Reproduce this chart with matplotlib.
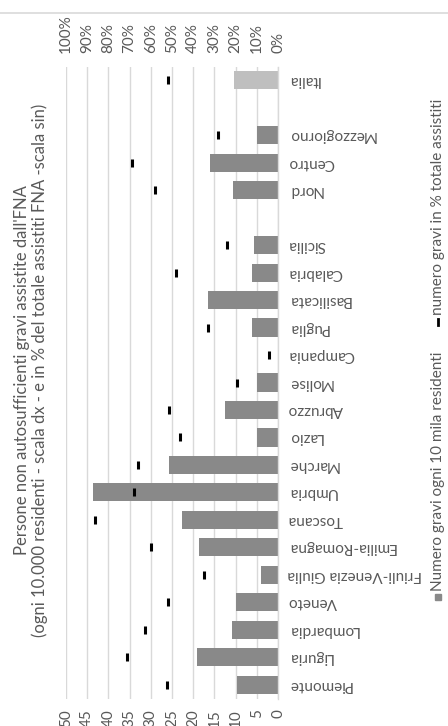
import numpy as np
import matplotlib
matplotlib.use("Agg")
import matplotlib.pyplot as plt
from matplotlib.patches import Rectangle
from matplotlib.lines import Line2D

plt.rcParams['font.family'] = ['Lato', 'DejaVu Sans']

categories = ['Piemonte', 'Liguria', 'Lombardia', 'Veneto', 'Friuli-Venezia Giulia',
              'Emilia-Romagna', 'Toscana', 'Umbria', 'Marche', 'Lazio', 'Abruzzo',
              'Molise', 'Campania', 'Puglia', 'Basilicata', 'Calabria', 'Sicilia',
              '', 'Nord', 'Centro', 'Mezzogiorno', '', 'Italia']
gravi_10mila = [9.6, 19.2, 10.8, 9.8, 3.9, 18.6, 22.7, 43.6, 25.7, 5.0, 12.6,
                5.0, 0.1, 6.1, 16.6, 6.2, 5.7, np.nan, 10.6, 16.0, 5.0, np.nan, 10.4]
gravi_pct = [52.5, 71.1, 62.6, 52.0, 34.9, 60.0, 86.3, 68.1, 66.2, 46.1, 51.3,
             19.3, 4.1, 33.0, np.nan, 48.1, 23.9, np.nan, 58.0, 68.7, 28.2, np.nan, 51.7]
left_ticks = [0, 5, 10, 15, 20, 25, 30, 35, 40, 45, 50]
right_ticks = [0, 10, 20, 30, 40, 50, 60, 70, 80, 90, 100]

title = ("Persone non autosufficienti gravi assistite dall'FNA\n"
         "(ogni 10.000 residenti - scala dx - e in % del totale assistiti FNA -scala sin)")
legend1 = "Numero gravi ogni 10 mila residenti"
legend2 = "numero gravi in % totale assistiti"

W, H = 448, 726
fig = plt.figure(figsize=(W / 100, H / 100), dpi=100)
TXT = '#595959'
GRID = '#d9d9d9'
FS = 11

x0, x1 = 66, 278
ytop, ybot = 66.5, 698.5
ax = fig.add_axes([x0 / W, 1 - ybot / H, (x1 - x0) / W, (ybot - ytop) / H])
idx = np.arange(len(categories))
colors = ['#bfbfbf' if c == 'Italia' else '#898989' for c in categories]
ax.barh(idx, gravi_10mila, height=0.66, color=colors, zorder=2)
ax.set_xlim(50, 0)
ax.set_ylim(-0.5, len(categories) - 0.5)
ax.set_xticks(left_ticks)
ax.set_xticklabels([str(t) for t in left_ticks], rotation=90, color=TXT, fontsize=FS)
ax.tick_params(axis='x', length=0, pad=7.5)
ax.grid(axis='x', color=GRID, linewidth=1.0, zorder=0)
ax.yaxis.tick_right()
ax.set_yticks(idx)
ax.set_yticklabels(categories, rotation=180, color=TXT, fontsize=FS, va='center')
ax.tick_params(axis='y', length=0, pad=7)
for s in ['top', 'bottom', 'left']:
    ax.spines[s].set_visible(False)
ax.spines['right'].set_color(GRID)
ax.spines['right'].set_linewidth(1.0)
ax.set_axisbelow(True)

ax2 = ax.twiny()
ax2.set_xlim(100, 0)
ax2.plot(gravi_pct, idx, linestyle='none', marker='|', markersize=6,
         markeredgewidth=2.2, color='black', zorder=3)
ax2.set_xticks(right_ticks)
ax2.set_xticklabels([f"{t}%" for t in right_ticks], rotation=90, color=TXT, fontsize=FS)
ax2.tick_params(axis='x', length=0, pad=9.5)
for s in ax2.spines.values():
    s.set_visible(False)

fig.text(31 / W, 1 - 370 / H, title, rotation=90, ha='center', va='center',
         color=TXT, fontsize=12, linespacing=1.15, multialignment='center')

# legend
lx = 438
fig.patches.append(Rectangle(((lx - 3) / W, 1 - 600 / H), 6 / W, 6 / H,
                             transform=fig.transFigure, color='#898989'))
fig.text(lx / W, 1 - 591 / H, legend1, rotation=90, ha='center', va='bottom',
         color=TXT, fontsize=FS)
fig.lines.append(Line2D([lx / W, lx / W], [1 - 325 / H, 1 - 319 / H],
                        transform=fig.transFigure, color='black', linewidth=2))
fig.text(lx / W, 1 - 315 / H, legend2, rotation=90, ha='center', va='bottom',
         color=TXT, fontsize=FS)

# top separator line
fig.lines.append(Line2D([0, 1], [1 - 12.5 / H, 1 - 12.5 / H],
                        transform=fig.transFigure, color=GRID, linewidth=1.2))

fig.savefig('out.png', dpi=100)
